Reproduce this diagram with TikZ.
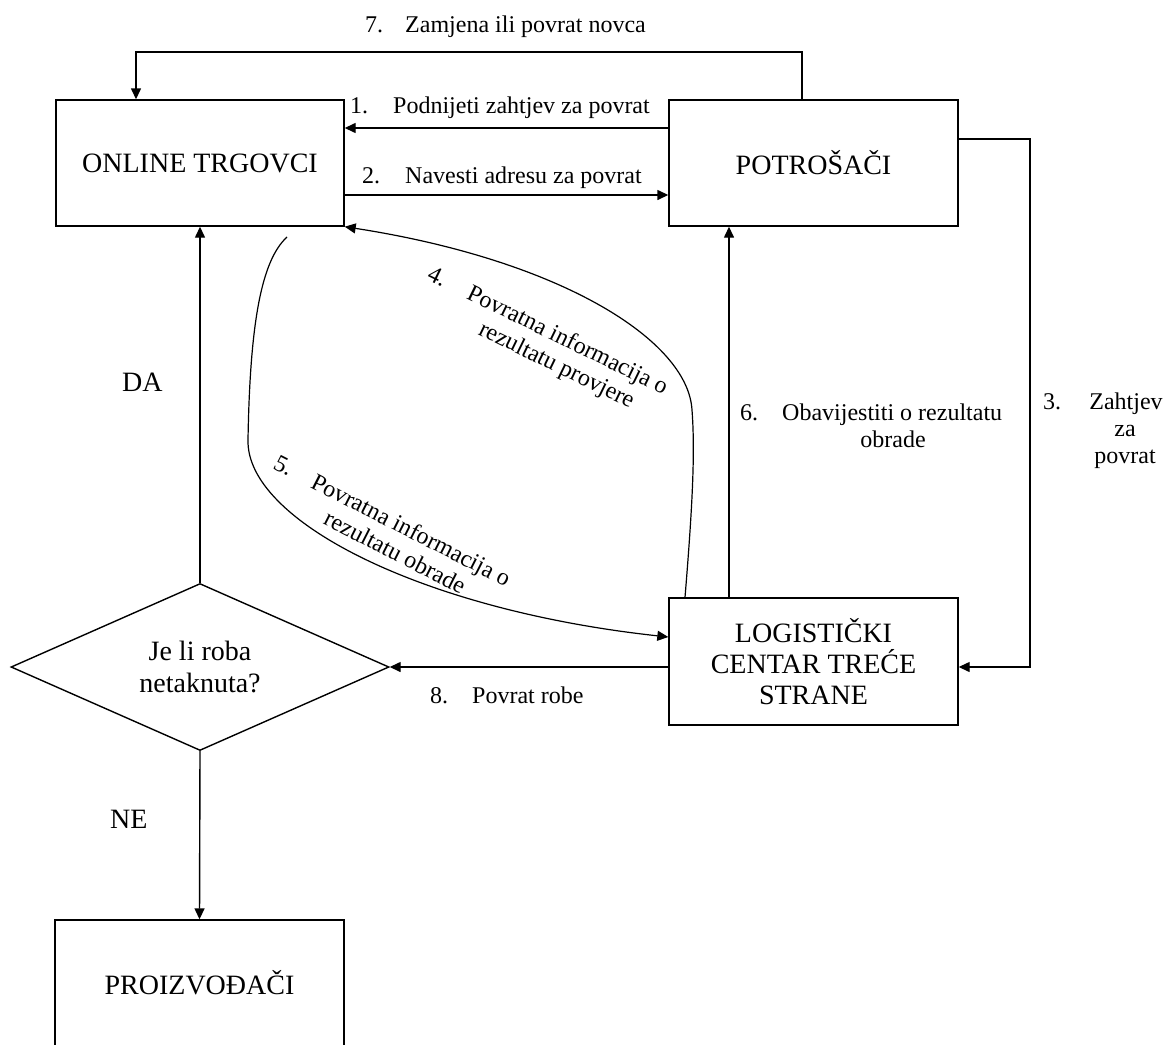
\documentclass[tikz,border=0pt]{standalone}
\usepackage{fontspec}
\setmainfont{Liberation Serif}
\usetikzlibrary{arrows.meta,shapes.geometric}

\begin{document}
\begin{tikzpicture}[x=1pt,y=-1pt,
  box/.style={draw,line width=1.4pt,align=center,inner sep=0pt,
    font=\fontsize{28}{31}\selectfont},
  lbl/.style={inner sep=0pt,font=\fontsize{24}{27}\selectfont},
  big/.style={inner sep=0pt,font=\fontsize{28}{31}\selectfont},
  conn/.style={line width=1.4pt,-{Triangle[length=11pt,width=10pt]}},
  curve/.style={line width=1.2pt},
]
\useasboundingbox (0,0) rectangle (1166,1044);
\clip (0,0) rectangle (1166,1044);

% --- boxes ---
\node[box,minimum width=288pt,minimum height=126pt] (ot) at (200,163) {ONLINE TRGOVCI};
\node[box,minimum width=289pt,minimum height=126pt] (po) at (813.5,163) {POTROŠAČI};
\node[box,minimum width=289pt,minimum height=127pt] (lc) at (813.5,661.5)
  {LOGISTIČKI\\CENTAR TREĆE\\STRANE};
\node[box,diamond,aspect=2.26,minimum width=378pt,minimum height=167pt,
  font=\fontsize{28}{32}\selectfont] (dm) at (200,667) {Je li roba\\netaknuta?};
\node[box,minimum width=289pt,minimum height=126pt] (pr) at (199.5,983) {PROIZVOĐAČI};

% --- straight connectors ---
\draw[conn] (po.west |- 0,128) -- (ot.east |- 0,128);
\draw[conn] (ot.east |- 0,195) -- (po.west |- 0,195);
\draw[conn] (po.north -| 802,0) -- (802,52) -- (136,52) -- (ot.north -| 136,0);
\draw[conn] (po.east |- 0,139) -- (1030,139) -- (1030,667) -- (lc.east |- 0,667);
\draw[conn] (lc.north -| 729,0) -- (po.south -| 729,0);
\draw[conn] (lc.west |- 0,667) -- (dm.east);
\draw[conn] (dm.north) -- (ot.south);
\draw[conn] (dm.south) -- (pr.north);

% --- curved feedback connectors ---
\draw[curve,-{Triangle[length=11pt,width=10pt]}] (lc.north -| 685,0)
  .. controls (693,500) and (695,450) .. (692,410)
  .. controls (688,340) and (560,260) .. (ot.south east);
\coordinate (c5) at (287,237);
\draw[curve,-{Triangle[length=11pt,width=10pt]}] (c5)
  .. controls (262,260) and (250,320) .. (248,440)
  .. controls (246,520) and (420,610) .. (lc.west |- 0,637);

% --- labels ---
\node[lbl,anchor=base west] (l7) at (365,32) {\makebox[40pt][l]{7.}Zamjena ili povrat novca};
\node[lbl,anchor=base west] (l1) at (350,113) {\makebox[43pt][l]{1.}Podnijeti zahtjev za povrat};
\node[lbl,anchor=base west] (l2) at (362,183) {\makebox[43pt][l]{2.}Navesti adresu za povrat};
\node[lbl,anchor=base west] (l8) at (430,703) {\makebox[42pt][l]{8.}Povrat robe};
\node[lbl,anchor=base west,align=center] (l6) at (740,420)
  {\makebox[42pt][l]{6.}Obavijestiti o rezultatu};
\node[lbl,anchor=base] (l6b) at (893,447) {obrade};
\node[lbl,anchor=base west] (l3) at (1043,409) {3.};
\node[lbl,anchor=base] (l3a) at (1126,409) {Zahtjev};
\node[lbl,anchor=base] (l3b) at (1125,436) {za};
\node[lbl,anchor=base] (l3c) at (1125,463) {povrat};

% slanted labels along the curved connectors
\node[lbl,rotate=-26,anchor=base west] (l4) at (426,279)
  {\begin{tabular}[t]{@{}l@{}}\makebox[44pt][l]{4.}Povratna informacija o\\
   \hspace{70pt}rezultatu provjere\end{tabular}};
\node[lbl,rotate=-27,anchor=base west] (l5) at (272,468)
  {\begin{tabular}[t]{@{}l@{}}\makebox[42pt][l]{5.}Povratna informacija o\\
   \hspace{70pt}rezultatu obrade\end{tabular}};

\node[big,anchor=base west] (da) at (122,391) {DA};
\node[big,anchor=base west] (ne) at (110,828) {NE};
\end{tikzpicture}
\end{document}
